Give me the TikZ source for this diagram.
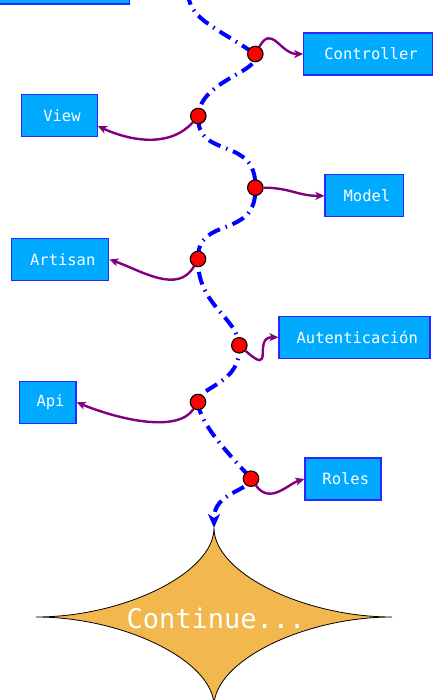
\documentclass[tikz,border=0pt]{standalone}
\usepackage{fontspec}
\newfontfamily\boxfont{DejaVu Sans Mono}
\usetikzlibrary{arrows.meta,backgrounds}
\definecolor{boxfill}{RGB}{0,170,255}
\definecolor{boxline}{RGB}{40,40,255}
\definecolor{linkpurple}{RGB}{128,0,128}
\definecolor{starfill}{RGB}{242,184,77}
\tikzset{
  box/.style={draw=boxline, line width=1.3pt, fill=boxfill, text=white,
    font=\boxfont\fontsize{15.5}{18}\selectfont, minimum height=42pt, inner sep=0pt,
    execute at begin node=\hspace*{5.5pt}},
  joint/.style={circle, fill=red, draw=black, line width=1.1pt, minimum size=15.5pt, inner sep=0pt},
  mainline/.style={draw=blue, line width=4pt, dash pattern=on 13pt off 6pt on 1.5pt off 6pt},
  link/.style={draw=linkpurple, line width=2.4pt, -{Stealth[length=9pt,width=8pt,inset=2.5pt]}},
  startext/.style={text=white, font=\boxfont\fontsize{27}{30}\selectfont, inner sep=0pt},
  starshape/.style={fill=starfill, draw=black, line width=0.8pt}
}
\begin{document}
\begin{tikzpicture}[x=1pt,y=-1pt]
\path[use as bounding box, clip] (0,0) rectangle (435,700);

% star
\coordinate (startop) at (214,528);
\path[starshape] (startop) .. controls (214,573) and (124,617) .. (36,617)
  .. controls (124,617) and (214,661) .. (214,706)
  .. controls (214,661) and (304,617) .. (392,617)
  .. controls (304,617) and (214,573) .. (startop) -- cycle;
\node[startext] (star) at (216,618) {Continue...};

% boxes
\node[box, minimum width=133pt] (top) at (63,-17) {};
\node[box, minimum width=129pt] (ctrl) at (368.3,54) {Controller};
\node[box, minimum width=76pt] (view) at (59.2,115.8) {View};
\node[box, minimum width=78.5pt] (model) at (364.2,195.8) {Model};
\node[box, minimum width=97.5pt] (art) at (60,259.5) {Artisan};
\node[box, minimum width=151pt] (auth) at (354.5,337.3) {Autenticación};
\node[box, minimum width=56.5pt] (api) at (47.8,402.3) {Api};
\node[box, minimum width=76pt] (roles) at (343,479) {Roles};

% joints
\node[joint] (c1) at (255.3,54) {};
\node[joint] (c2) at (198.3,116) {};
\node[joint] (c3) at (255.3,187.7) {};
\node[joint] (c4) at (198,259) {};
\node[joint] (c5) at (239.3,345.3) {};
\node[joint] (c6) at (198,402) {};
\node[joint] (c7) at (251,478.7) {};

\coordinate (s) at (188,-8);

\begin{scope}[on background layer]
\draw[mainline, -{Stealth[length=14pt,width=12pt,inset=4pt]}] (s)
  .. controls (189,18) and (210,24) .. (c1.center)
  .. controls (262,72) and (200,80) .. (c2.center)
  .. controls (196,160) and (257,135) .. (c3.center)
  .. controls (257,240) and (197,215) .. (c4.center)
  .. controls (197,305) and (238,318) .. (c5.center)
  .. controls (241,385) and (200,385) .. (c6.center)
  .. controls (199,425) and (235,460) .. (c7.center)
  .. controls (248,492) and (214,492) .. (startop);
\end{scope}

\draw[link] (c1) .. controls (272,24) and (280,54) .. (ctrl.west);
\draw[link] (c2) .. controls (172,146) and (135,143) .. (view.-15);
\draw[link] (c3) .. controls (290,187.7) and (298,196) .. (model.west);
\draw[link] (c4) .. controls (178,295) and (140,270) .. (art.east);
\draw[link] (c5) .. controls (276,378) and (252,337) .. (auth.west);
\draw[link] (c6) .. controls (178,433) and (120,420) .. (api.east);
\draw[link] (c7) .. controls (270,505) and (288,484) .. (roles.west);
\end{tikzpicture}
\end{document}
